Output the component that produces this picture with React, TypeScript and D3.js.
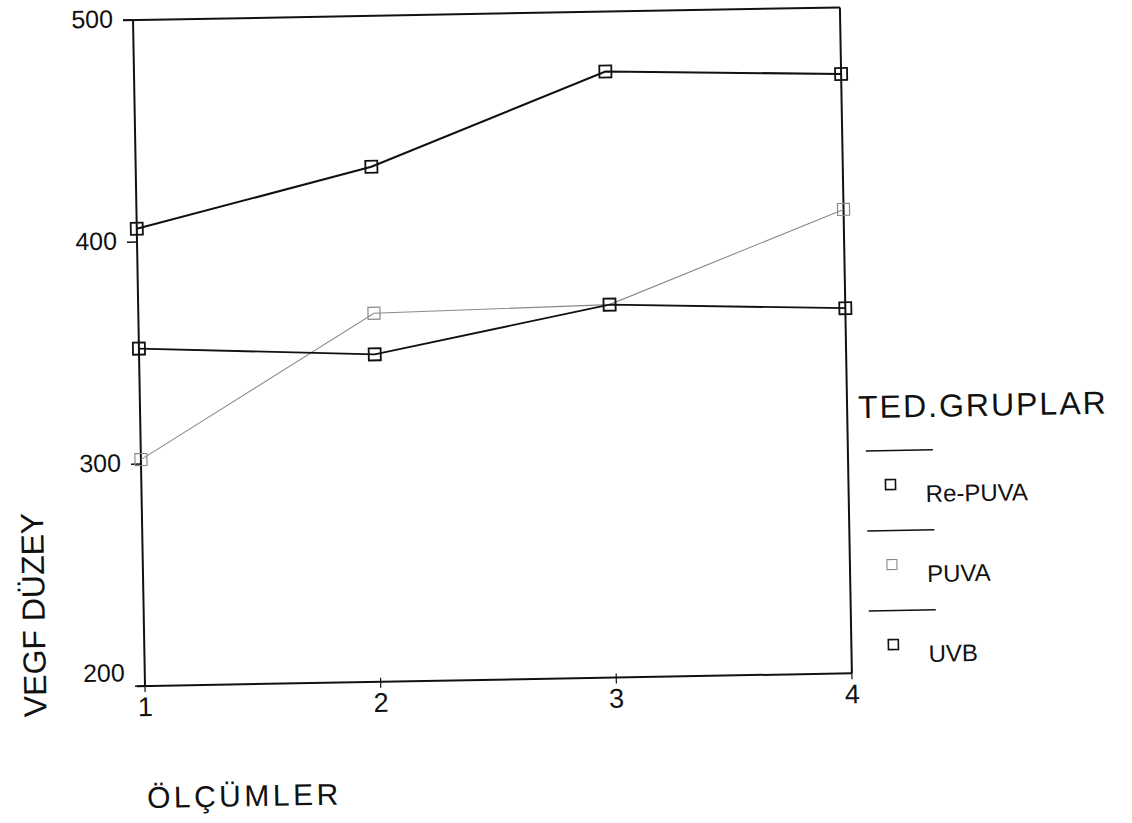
import React from "react";
import * as d3 from "d3";

const measurements = [1, 2, 3, 4];
const xTickLabels = ["1", "2", "3", "4"];
const yTicks = [200, 300, 400, 500];
const groups = ["Re-PUVA", "PUVA", "UVB"];
const rePuva = [406, 432, 473, 470];
const puva = [302, 366, 368, 409];
const uvb = [352, 347.5, 368, 364.5];
const seriesValues = [rePuva, puva, uvb];
const seriesColors = ["#111", "#8a8a8a", "#111"];
const seriesWidths = [2.1, 1.1, 1.9];

const W = 1132;
const H = 823;
const FONT = "'Liberation Sans', Arial, Helvetica, sans-serif";

export default function App() {
  const x = d3.scaleLinear().domain([1, 4]).range([145, 852]);
  const y = d3.scaleLinear().domain([200, 500]).range([686, 20]);
  const line = d3
    .line<number>()
    .x((_, i) => x(measurements[i]))
    .y((d) => y(d));

  const [x0, x1] = x.range();
  const [yb, yt] = y.range();
  const legendX = 870;
  const legendRow = 80;

  return (
    <svg
      width={W}
      height={H}
      style={{ position: "absolute", left: 0, top: 0, display: "block", background: "#fff" }}
      fontFamily={FONT}
    >
      <rect width={W} height={H} fill="#fff" />
      <g transform="rotate(-1.03 145 686)">
        {/* frame */}
        <line x1={x0 - 10} x2={x1} y1={yt} y2={yt} stroke="#111" strokeWidth={2} />
        <line x1={x0 - 8} x2={x1} y1={yb} y2={yb} stroke="#111" strokeWidth={2} />
        <line x1={x0} x2={x0} y1={yt} y2={yb} stroke="#111" strokeWidth={2} />
        <line x1={x1} x2={x1} y1={yt} y2={yb} stroke="#111" strokeWidth={2} />
        {/* y ticks */}
        {yTicks.map((t) => (
          <g key={"yt" + t}>
            <line x1={x0 - 10} x2={x0} y1={y(t)} y2={y(t)} stroke="#111" strokeWidth={1.6} />
            <text
              x={x0 - 20}
              y={y(t) - (t === 200 ? 14 : 2)}
              textAnchor="end"
              dominantBaseline="central"
              fontSize={25}
              fill="#111"
            >
              {t}
            </text>
          </g>
        ))}
        {/* x ticks */}
        {measurements.map((m, i) => (
          <g key={"xt" + m}>
            <line x1={x(m)} x2={x(m)} y1={yb - 4} y2={yb + 6} stroke="#111" strokeWidth={1.2} />
            <text x={x(m)} y={yb + 30} textAnchor="middle" fontSize={27} fill="#111">
              {xTickLabels[i]}
            </text>
          </g>
        ))}
        {/* series */}
        {seriesValues.map((vals, si) => (
          <g key={"s" + si}>
            <path
              d={line(vals) || ""}
              fill="none"
              stroke={seriesColors[si]}
              strokeWidth={seriesWidths[si]}
            />
            {vals.map((v, i) => (
              <rect
                key={i}
                x={x(measurements[i]) - 6}
                y={y(v) - 6}
                width={12}
                height={12}
                fill="none"
                stroke={seriesColors[si]}
                strokeWidth={si === 1 ? 1.2 : 1.8}
              />
            ))}
          </g>
        ))}
        {/* axis titles */}
        <text
          transform="translate(46 613) rotate(-90)"
          textAnchor="middle"
          fontSize={32}
          fill="#111"
        >
          VEGF DÜZEY
        </text>
        <text x={145} y={808} fontSize={30} letterSpacing={3.5} fill="#111">
          ÖLÇÜMLER
        </text>
        {/* legend */}
        <text x={863} y={431} fontSize={32} letterSpacing={2} fill="#111">
          TED.GRUPLAR
        </text>
        {groups.map((g, i) => {
          const ly = 464 + legendRow * i;
          const my = 498 + legendRow * i;
          return (
            <g key={"lg" + g}>
              <line x1={legendX} x2={legendX + 67} y1={ly} y2={ly} stroke="#111" strokeWidth={1.6} />
              <rect
                x={legendX + 19}
                y={my - 5}
                width={10}
                height={10}
                fill="none"
                stroke={seriesColors[i]}
                strokeWidth={i === 1 ? 1.1 : 1.6}
              />
              <text x={legendX + 59} y={my + 18} fontSize={24} fill="#111">
                {g}
              </text>
            </g>
          );
        })}
      </g>
    </svg>
  );
}
